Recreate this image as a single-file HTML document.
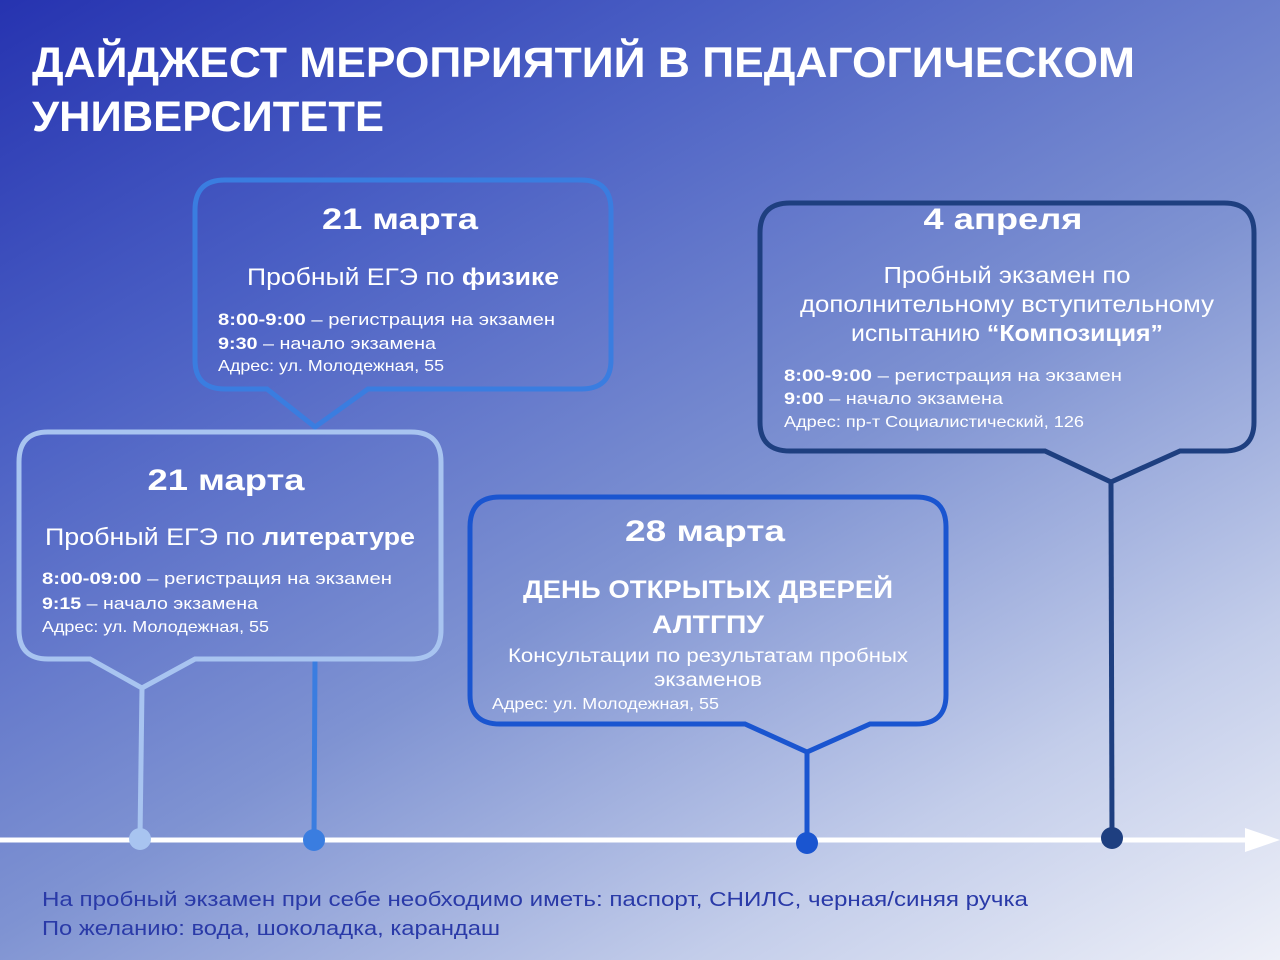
<!DOCTYPE html>
<html><head><meta charset="utf-8"><style>
html,body{margin:0;padding:0}
body{width:1280px;height:960px;overflow:hidden;background:linear-gradient(150deg,#2633b0 0%,#4a5fc4 25%,#7f93d2 55%,#c3cdea 80%,#eef0f8 100%);font-family:"Liberation Sans",sans-serif}
svg{position:absolute;left:0;top:0}
text{font-family:"Liberation Sans",sans-serif;fill:#fff}
</style></head><body>
<svg width="1280" height="960" viewBox="0 0 1280 960">
<text x="32" y="77" font-size="43" font-weight="bold" textLength="1103" lengthAdjust="spacingAndGlyphs">ДАЙДЖЕСТ МЕРОПРИЯТИЙ В ПЕДАГОГИЧЕСКОМ</text>
<text x="32" y="131" font-size="43" font-weight="bold" textLength="352" lengthAdjust="spacingAndGlyphs">УНИВЕРСИТЕТЕ</text>

<line x1="142" y1="688" x2="140" y2="838" stroke="#a8c4f0" stroke-width="5"/>
<line x1="315" y1="660" x2="314" y2="840" stroke="#3a7de0" stroke-width="5"/>
<line x1="807" y1="752" x2="807" y2="843" stroke="#1a55d0" stroke-width="5"/>
<line x1="1111" y1="482" x2="1112" y2="838" stroke="#1e3f80" stroke-width="5"/>

<line x1="0" y1="840" x2="1250" y2="840" stroke="#fff" stroke-width="5"/>
<polygon points="1245,828 1280,840 1245,852" fill="#fff"/>
<circle cx="140" cy="839" r="11" fill="#a8c4f0"/>
<circle cx="314" cy="840" r="11" fill="#3a7de0"/>
<circle cx="807" cy="843" r="11" fill="#1a55d0"/>
<circle cx="1112" cy="838" r="11" fill="#1e3f80"/>

<path d="M225,180 H581 Q611,180 611,210 V360 Q611,389 581,389 H368 L315,427 L267,389 H225 Q195,389 195,360 V210 Q195,180 225,180 Z" fill="none" stroke="#3a7de0" stroke-width="5"/>
<path d="M48,432 H411 Q441,432 441,462 V630 Q441,659 411,659 H195 L142,688 L90,659 H48 Q19,659 19,630 V462 Q19,432 48,432 Z" fill="none" stroke="#a8c4f0" stroke-width="5"/>
<path d="M500,497 H916 Q946,497 946,527 V695 Q946,724 916,724 H870 L807,752 L745,724 H500 Q470,724 470,695 V527 Q470,497 500,497 Z" fill="none" stroke="#1a55d0" stroke-width="5"/>
<path d="M790,203 H1224 Q1254,203 1254,233 V422 Q1254,451 1224,451 H1180 L1111,482 L1045,451 H790 Q760,451 760,422 V233 Q760,203 790,203 Z" fill="none" stroke="#1e3f80" stroke-width="5"/>

<text x="400" y="229" font-size="30" font-weight="bold" text-anchor="middle" textLength="156" lengthAdjust="spacingAndGlyphs">21 марта</text>
<text x="403" y="285" font-size="24" text-anchor="middle" textLength="312" lengthAdjust="spacingAndGlyphs">Пробный ЕГЭ по <tspan font-weight="bold">физике</tspan></text>
<text x="218" y="325" font-size="17" textLength="337" lengthAdjust="spacingAndGlyphs"><tspan font-weight="bold">8:00-9:00</tspan> – регистрация на экзамен</text>
<text x="218" y="349" font-size="17" textLength="218" lengthAdjust="spacingAndGlyphs"><tspan font-weight="bold">9:30</tspan> – начало экзамена</text>
<text x="218" y="371" font-size="16" textLength="226" lengthAdjust="spacingAndGlyphs">Адрес: ул. Молодежная, 55</text>

<text x="226" y="490" font-size="30" font-weight="bold" text-anchor="middle" textLength="157" lengthAdjust="spacingAndGlyphs">21 марта</text>
<text x="230" y="545" font-size="24" text-anchor="middle" textLength="370" lengthAdjust="spacingAndGlyphs">Пробный ЕГЭ по <tspan font-weight="bold">литературе</tspan></text>
<text x="42" y="584" font-size="17" textLength="350" lengthAdjust="spacingAndGlyphs"><tspan font-weight="bold">8:00-09:00</tspan> – регистрация на экзамен</text>
<text x="42" y="609" font-size="17" textLength="216" lengthAdjust="spacingAndGlyphs"><tspan font-weight="bold">9:15</tspan> – начало экзамена</text>
<text x="42" y="632" font-size="16" textLength="227" lengthAdjust="spacingAndGlyphs">Адрес: ул. Молодежная, 55</text>

<text x="705" y="541" font-size="30" font-weight="bold" text-anchor="middle" textLength="160" lengthAdjust="spacingAndGlyphs">28 марта</text>
<text x="708" y="598" font-size="25" font-weight="bold" text-anchor="middle" textLength="370" lengthAdjust="spacingAndGlyphs">ДЕНЬ ОТКРЫТЫХ ДВЕРЕЙ</text>
<text x="708" y="633" font-size="25" font-weight="bold" text-anchor="middle" textLength="112" lengthAdjust="spacingAndGlyphs">АЛТГПУ</text>
<text x="708" y="662" font-size="19" text-anchor="middle" textLength="400" lengthAdjust="spacingAndGlyphs">Консультации по результатам пробных</text>
<text x="708" y="686" font-size="19" text-anchor="middle" textLength="108" lengthAdjust="spacingAndGlyphs">экзаменов</text>
<text x="492" y="709" font-size="16" textLength="227" lengthAdjust="spacingAndGlyphs">Адрес: ул. Молодежная, 55</text>

<text x="1003" y="229" font-size="30" font-weight="bold" text-anchor="middle" textLength="159" lengthAdjust="spacingAndGlyphs">4 апреля</text>
<text x="1007" y="283" font-size="23" text-anchor="middle" textLength="247" lengthAdjust="spacingAndGlyphs">Пробный экзамен по</text>
<text x="1007" y="312" font-size="23" text-anchor="middle" textLength="414" lengthAdjust="spacingAndGlyphs">дополнительному вступительному</text>
<text x="1007" y="341" font-size="23" text-anchor="middle" textLength="312" lengthAdjust="spacingAndGlyphs">испытанию <tspan font-weight="bold">“Композиция”</tspan></text>
<text x="784" y="381" font-size="17" textLength="338" lengthAdjust="spacingAndGlyphs"><tspan font-weight="bold">8:00-9:00</tspan> – регистрация на экзамен</text>
<text x="784" y="404" font-size="17" textLength="219" lengthAdjust="spacingAndGlyphs"><tspan font-weight="bold">9:00</tspan> – начало экзамена</text>
<text x="784" y="427" font-size="16" textLength="300" lengthAdjust="spacingAndGlyphs">Адрес: пр-т Социалистический, 126</text>

<text x="42" y="906" font-size="20" style="fill:#2a3aa8" textLength="986" lengthAdjust="spacingAndGlyphs">На пробный экзамен при себе необходимо иметь: паспорт, СНИЛС, черная/синяя ручка</text>
<text x="42" y="935" font-size="20" style="fill:#2a3aa8" textLength="458" lengthAdjust="spacingAndGlyphs">По желанию: вода, шоколадка, карандаш</text>
</svg>
</body></html>
